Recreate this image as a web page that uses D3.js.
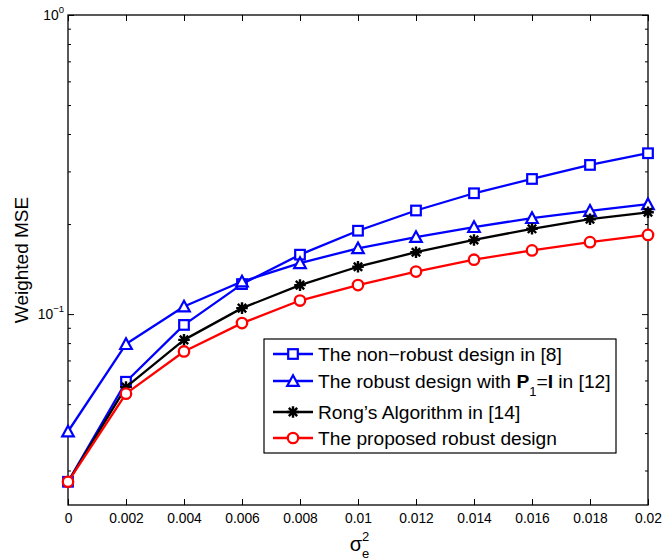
<!DOCTYPE html>
<html>
<head>
<meta charset="utf-8">
<script src="https://cdn.jsdelivr.net/npm/d3@7"></script>
<style>
  html, body { margin: 0; padding: 0; background: #fff; }
  text { font-family: "Liberation Sans", Arial, Helvetica, sans-serif; fill: #000; }
</style>
</head>
<body>
<svg id="chart" width="662" height="560"></svg>
<script>
// ---------- data ----------
const sigma = [0, 0.002, 0.004, 0.006, 0.008, 0.01, 0.012, 0.014, 0.016, 0.018, 0.02];
const nonRobust = [0.0275, 0.0594, 0.092, 0.126, 0.158, 0.190, 0.222, 0.2535, 0.283, 0.3153, 0.345];
const robustP1  = [0.0405, 0.0794, 0.106, 0.1285, 0.148, 0.166, 0.181, 0.1954, 0.2094, 0.2214, 0.233];
const rong      = [0.0275, 0.057, 0.082, 0.1047, 0.125, 0.144, 0.161, 0.177, 0.1928, 0.2076, 0.219];
const proposed  = [0.0275, 0.0542, 0.075, 0.0933, 0.111, 0.125, 0.1387, 0.152, 0.1633, 0.174, 0.184];
const xTickValues = [0, 0.002, 0.004, 0.006, 0.008, 0.01, 0.012, 0.014, 0.016, 0.018, 0.02];
const xTickLabels = ["0", "0.002", "0.004", "0.006", "0.008", "0.01", "0.012", "0.014", "0.016", "0.018", "0.02"];
const yMajorTicks = [0.1, 1];
const yMajorExponents = ["\u22121", "0"];
const yMinorTicks = [0.03, 0.04, 0.05, 0.06, 0.07, 0.08, 0.09, 0.2, 0.3, 0.4, 0.5, 0.6, 0.7, 0.8, 0.9];
const seriesNames = ["nonRobust", "robustP1", "rong", "proposed"];
const seriesColors = ["#0000ff", "#0000ff", "#000000", "#ff0000"];
const seriesMarkers = ["square", "triangle", "star", "circle"];
const seriesValues = [nonRobust, robustP1, rong, proposed];

// ---------- layout ----------
const L = 68, R = 648, T = 15, B = 505;
const svg = d3.select("#chart");
const x = d3.scaleLinear().domain([0, 0.02]).range([L, R]);
const y = d3.scaleLog().domain([0.023, 1]).range([B, T]);

svg.append("rect").attr("x", L).attr("y", T).attr("width", R - L).attr("height", B - T)
  .attr("fill", "#fff").attr("stroke", "none");

function styleAxis(g) {
  g.select(".domain").remove();
  g.selectAll(".tick line").attr("stroke", "#000").attr("stroke-width", 1);
}
svg.append("g").attr("transform", `translate(0,${B})`)
  .call(d3.axisBottom(x).tickValues(xTickValues).tickSize(-6).tickPadding(8)
    .tickFormat((d, i) => xTickLabels[i]))
  .call(styleAxis)
  .call(g => g.selectAll("text").attr("font-size", 13.8).attr("font-family", "Liberation Sans, Arial, sans-serif"));
svg.append("g").attr("transform", `translate(0,${T})`)
  .call(d3.axisTop(x).tickValues(xTickValues).tickSize(-6).tickFormat(""))
  .call(styleAxis);
svg.append("g").attr("transform", `translate(${L},0)`)
  .call(d3.axisLeft(y).tickValues(yMajorTicks).tickSize(-6).tickFormat(""))
  .call(styleAxis);
svg.append("g").attr("transform", `translate(${L},0)`)
  .call(d3.axisLeft(y).tickValues(yMinorTicks).tickSize(-3).tickFormat(""))
  .call(styleAxis);
svg.append("g").attr("transform", `translate(${R},0)`)
  .call(d3.axisRight(y).tickValues(yMajorTicks).tickSize(-6).tickFormat(""))
  .call(styleAxis);
svg.append("g").attr("transform", `translate(${R},0)`)
  .call(d3.axisRight(y).tickValues(yMinorTicks).tickSize(-3).tickFormat(""))
  .call(styleAxis);

yMajorTicks.forEach((v, i) => {
  const t = svg.append("text").attr("x", 64).attr("y", y(v) + 5)
    .attr("text-anchor", "end").attr("font-size", 13.8);
  t.append("tspan").text("10");
  t.append("tspan").attr("dy", -7).attr("font-size", 9.5).text(yMajorExponents[i]);
});

svg.append("rect").attr("x", L).attr("y", T).attr("width", R - L).attr("height", B - T)
  .attr("fill", "none").attr("stroke", "#000").attr("stroke-width", 1.3);

// ---------- markers ----------
function drawMarker(g, type, color, cx, cy) {
  if (type === "square") {
    g.append("rect").attr("x", cx - 4.8).attr("y", cy - 4.8).attr("width", 9.6).attr("height", 9.6)
      .attr("fill", "#fff").attr("stroke", color).attr("stroke-width", 2.2);
  } else if (type === "triangle") {
    const s = 5.8;
    g.append("path").attr("d", `M${cx},${cy - s}L${cx + s},${cy + s * 0.85}L${cx - s},${cy + s * 0.85}Z`)
      .attr("fill", "#fff").attr("stroke", color).attr("stroke-width", 2.2).attr("stroke-linejoin", "miter");
  } else if (type === "circle") {
    g.append("circle").attr("cx", cx).attr("cy", cy).attr("r", 5.2)
      .attr("fill", "#fff").attr("stroke", color).attr("stroke-width", 2.3);
  } else if (type === "star") {
    const s = 5.8, d = s * 0.72;
    g.append("path")
      .attr("d", `M${cx - s},${cy}L${cx + s},${cy}M${cx},${cy - s}L${cx},${cy + s}` +
                 `M${cx - d},${cy - d}L${cx + d},${cy + d}M${cx - d},${cy + d}L${cx + d},${cy - d}`)
      .attr("fill", "none").attr("stroke", color).attr("stroke-width", 2.4);
  }
}

// ---------- series ----------
const line = d3.line().x((d, i) => x(sigma[i])).y(d => y(d));
seriesValues.forEach((vals, k) => {
  const g = svg.append("g").attr("class", seriesNames[k]);
  g.append("path").datum(vals).attr("d", line)
    .attr("fill", "none").attr("stroke", seriesColors[k]).attr("stroke-width", 2.3)
    .attr("stroke-linejoin", "round");
  vals.forEach((v, i) => drawMarker(g, seriesMarkers[k], seriesColors[k], x(sigma[i]), y(v)));
});

// ---------- legend ----------
const legRows = [354, 381, 412, 438];
const leg = svg.append("g");
leg.append("rect").attr("x", 264).attr("y", 339).attr("width", 352).attr("height", 114)
  .attr("fill", "#fff").attr("stroke", "#000").attr("stroke-width", 1.2);
const legendFont = 19.2;
seriesValues.forEach((vals, k) => {
  const cy = legRows[k];
  leg.append("line").attr("x1", 273).attr("x2", 313).attr("y1", cy).attr("y2", cy)
    .attr("stroke", seriesColors[k]).attr("stroke-width", 2.3);
  drawMarker(leg, seriesMarkers[k], seriesColors[k], 293, cy);
});
function legText(k) {
  return leg.append("text").attr("x", 318).attr("y", legRows[k] + 6.8).attr("font-size", legendFont);
}
legText(0).text("The non\u2212robust design in [8]");
{
  const t = legText(1);
  t.append("tspan").text("The robust design with ");
  t.append("tspan").attr("font-weight", "bold").text("P");
  t.append("tspan").attr("dy", 8).attr("font-size", 13).text("1");
  t.append("tspan").attr("dy", -8).text("=");
  t.append("tspan").attr("font-weight", "bold").text("I");
  t.append("tspan").text(" in [12]");
}
legText(2).text("Rong\u2019s Algorithm in [14]");
legText(3).text("The proposed robust design");

// ---------- axis titles ----------
svg.append("text").attr("transform", `translate(28,${(T + B) / 2}) rotate(-90)`)
  .attr("text-anchor", "middle").attr("font-size", 19).text("Weighted MSE");
svg.append("text").attr("x", 356).attr("y", 551).attr("text-anchor", "middle").attr("font-size", 20).text("\u03c3");
svg.append("text").attr("x", 362).attr("y", 541).attr("font-size", 13).text("2");
svg.append("text").attr("x", 362).attr("y", 558).attr("font-size", 13).text("e");
</script>
</body>
</html>
